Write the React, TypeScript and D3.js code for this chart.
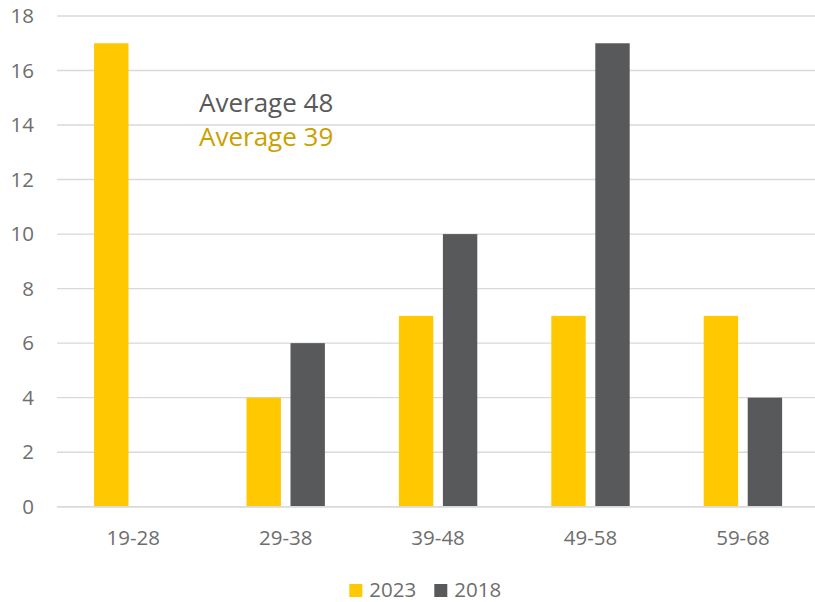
import React from "react";
import * as d3 from "d3";

const categories = ["19-28", "29-38", "39-48", "49-58", "59-68"];
const series2023 = [17, 4, 7, 7, 7];
const series2018 = [0, 6, 10, 17, 4];
const seriesNames = ["2023", "2018"];
const yTicks = [0, 2, 4, 6, 8, 10, 12, 14, 16, 18];
const annotations = ["Average 48", "Average 39"];

const W = 815;
const H = 602;
const margin = { left: 57.1, right: 57.1 + 5 * 152.4, top: 16, bottom: 506.7 };
const colors = ["#FFC800", "#58595B"];
const font = "'Open Sans', sans-serif";

export default function App() {
  const x = d3
    .scaleBand<string>()
    .domain(categories)
    .range([margin.left, margin.right])
    .paddingInner(0)
    .paddingOuter(0);
  const y = d3.scaleLinear().domain([0, 18]).range([margin.bottom, margin.top]);
  const bw = x.bandwidth();
  const barW = 34.4;
  const gap = 9.6;
  const groupW = barW * 2 + gap;
  const data = [series2023, series2018];

  return (
    <svg
      width={W}
      height={H}
      style={{ position: "absolute", left: 0, top: 0, background: "#fff" }}
    >
      <rect x={0} y={0} width={W} height={H} fill="#fff" />
      {yTicks.map((t) => (
        <g key={t}>
          <line
            x1={margin.left}
            x2={margin.right}
            y1={y(t)}
            y2={y(t)}
            stroke="#D9D9D9"
            strokeWidth={1.4}
          />
          <text
            x={34}
            y={y(t) + 7}
            textAnchor="end"
            fontFamily={font}
            fontSize={20.5}
            fill="#6E6E6E"
          >
            {t}
          </text>
        </g>
      ))}
      {data.map((s, si) =>
        s.map((v, i) => {
          const x0 = (x(categories[i]) as number) + (bw - groupW) / 2 + si * (barW + gap);
          return v > 0 ? (
            <rect
              key={`${si}-${i}`}
              x={x0}
              y={y(v)}
              width={barW}
              height={y(0) - y(v)}
              fill={colors[si]}
            />
          ) : null;
        })
      )}
      <line
        x1={margin.left}
        x2={margin.right}
        y1={y(0)}
        y2={y(0)}
        stroke="#D9D9D9"
        strokeWidth={1.4}
      />
      {categories.map((c) => (
        <text
          key={c}
          x={(x(c) as number) + bw / 2}
          y={545}
          textAnchor="middle"
          fontFamily={font}
          fontSize={20.5}
          fill="#6E6E6E"
        >
          {c}
        </text>
      ))}
      <text x={199} y={112} fontFamily={font} fontSize={26} fill="#595959">
        {annotations[0]}
      </text>
      <text x={199} y={145.5} fontFamily={font} fontSize={26} fill="#C9A100">
        {annotations[1]}
      </text>
      {seriesNames.map((n, i) => (
        <g key={n} transform={`translate(${349.3 + i * 85},0)`}>
          <rect x={0} y={584} width={13} height={13} fill={colors[i]} />
          <text x={20} y={597} fontFamily={font} fontSize={20.5} fill="#6E6E6E">
            {n}
          </text>
        </g>
      ))}
    </svg>
  );
}
